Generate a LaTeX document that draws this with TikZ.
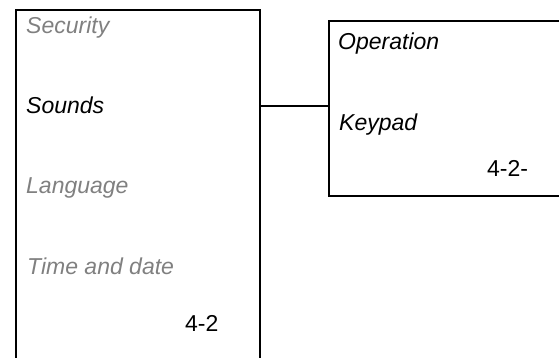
\documentclass[tikz,border=0pt]{standalone}
\usepackage{fontspec}
\setmainfont{Liberation Sans}
\definecolor{menugrey}{RGB}{128,128,128}
\tikzset{
  panel/.style={draw=black, line width=2pt, rectangle, inner sep=0pt, anchor=north west},
  item/.style={anchor=base west, inner sep=0pt, font=\fontsize{23}{27}\selectfont\itshape},
  dim/.style={item, text=menugrey},
  num/.style={anchor=base west, inner sep=0pt, font=\fontsize{23}{27}\selectfont},
  link/.style={draw=black, line width=2pt}
}
\begin{document}
\begin{tikzpicture}[x=1pt,y=1pt]
\useasboundingbox (0,0) rectangle (559,358);
\clip (0,0) rectangle (559,358);
\node[panel, minimum width=244pt, minimum height=380pt] (leftbox) at (15,349) {};
\node[panel, minimum width=260pt, minimum height=175pt] (rightbox) at (328,338) {};
\node[dim] (security) at (26,324) {Security};
\node[item] (sounds) at (26,244) {Sounds};
\node[dim] (language) at (26,164) {Language};
\node[dim] (timedate) at (27,83) {Time and date};
\node[num] (num1) at (185,26) {4-2};
\node[item] (operation) at (338,308) {Operation};
\node[item] (keypad) at (339,227) {Keypad};
\node[num] (num2) at (487,181) {4-2-};
\draw[link] (sounds.east -| leftbox.east) -- ([xshift=2pt]sounds.east -| rightbox.west);
\end{tikzpicture}
\end{document}
